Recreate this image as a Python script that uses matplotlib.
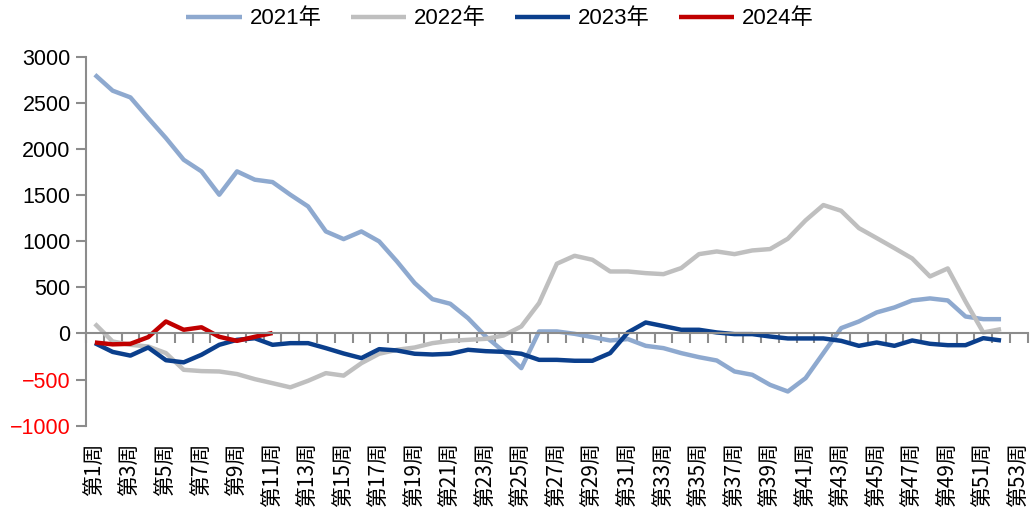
import numpy as np
import matplotlib.pyplot as plt

plt.rcParams['font.family'] = ['Liberation Sans', 'Noto Sans CJK SC', 'DejaVu Sans']
plt.rcParams['axes.unicode_minus'] = True

# weekly values
weeks = ['第%d周' % i for i in range(1, 54)]

y2021 = [2805, 2632, 2559, 2335, 2118, 1883, 1757, 1504, 1757, 1667, 1641, 1504, 1377,
         1106, 1023, 1106, 998, 781, 546, 372, 322, 166, -33, -195, -376, 22, 22, -4,
         -40, -76, -61, -134, -159, -213, -257, -293, -412, -448, -557, -629, -484,
         -213, 58, 130, 228, 282, 358, 380, 358, 184, 155, 155]
y2022 = [105, -87, -123, -141, -213, -394, -408, -412, -440, -495, -539, -584, -513,
         -430, -457, -322, -220, -177, -152, -105, -80, -69, -58, -22, 76, 329, 756,
         842, 799, 672, 672, 654, 643, 709, 860, 889, 860, 900, 915, 1027, 1226, 1392,
         1330, 1142, 1034, 925, 813, 618, 705, 347, 11, 47]
y2023 = [-105, -200, -240, -152, -290, -313, -231, -123, -69, -52, -123, -105, -105,
         -159, -217, -267, -170, -184, -220, -228, -220, -177, -192, -199, -220, -286,
         -286, -296, -296, -213, 11, 119, 80, 40, 40, 11, -7, -7, -33, -54, -54, -54,
         -80, -134, -98, -134, -76, -112, -127, -127, -51, -76]
y2024 = [-98, -118, -112, -40, 130, 40, 67, -36, -80, -36, 5]

series = [('2021年', y2021, '#8EA9CF'),
          ('2022年', y2022, '#BFBFBF'),
          ('2023年', y2023, '#0B3F8C'),
          ('2024年', y2024, '#C00000')]

fig = plt.figure(figsize=(10.31, 5.11), dpi=100)
ax = fig.add_axes([0.0834, 0.1669, 0.9134, 0.7221])

for name, vals, col in series:
    ax.plot(np.arange(len(vals)), vals, color=col, lw=3.2, label=name,
            solid_joinstyle='round', solid_capstyle='butt')

ax.set_xlim(-0.5, len(weeks) - 0.5)
ax.set_ylim(-1000, 3000)
ax.set_yticks(np.arange(-1000, 3001, 500))

grey = '#8C8C8C'
for s in ['top', 'right']:
    ax.spines[s].set_visible(False)
ax.spines['left'].set_color(grey)
ax.spines['left'].set_linewidth(1.5)
ax.spines['bottom'].set_position(('data', 0))
ax.spines['bottom'].set_color(grey)
ax.spines['bottom'].set_linewidth(1.5)

# category boundary ticks on the zero line
ax.set_xticks(np.arange(-0.5, len(weeks), 1))
ax.set_xticklabels([])
ax.tick_params(axis='x', direction='out', length=7, width=1.5, color=grey)
ax.tick_params(axis='y', direction='out', length=7, width=1.5, color=grey,
               labelsize=15.5, pad=4)
for lab, v in zip(ax.get_yticklabels(), ax.get_yticks()):
    lab.set_color('#FF0000' if v < 0 else 'black')

# week labels along the bottom of the plot
sec = ax.secondary_xaxis('bottom')
sec.spines['bottom'].set_visible(False)
sec.set_xticks(np.arange(0, len(weeks), 2))
sec.set_xticklabels(weeks[::2], rotation=90, fontsize=15,
                    family=['Noto Sans CJK SC', 'DejaVu Sans'])
sec.tick_params(length=0, pad=12)

fig.legend(loc='center', bbox_to_anchor=(0.485, 0.963), ncol=4, frameon=False,
           fontsize=16, handlelength=2.5, handletextpad=0.35, columnspacing=1.3)

fig.savefig('out.png', dpi=100)
